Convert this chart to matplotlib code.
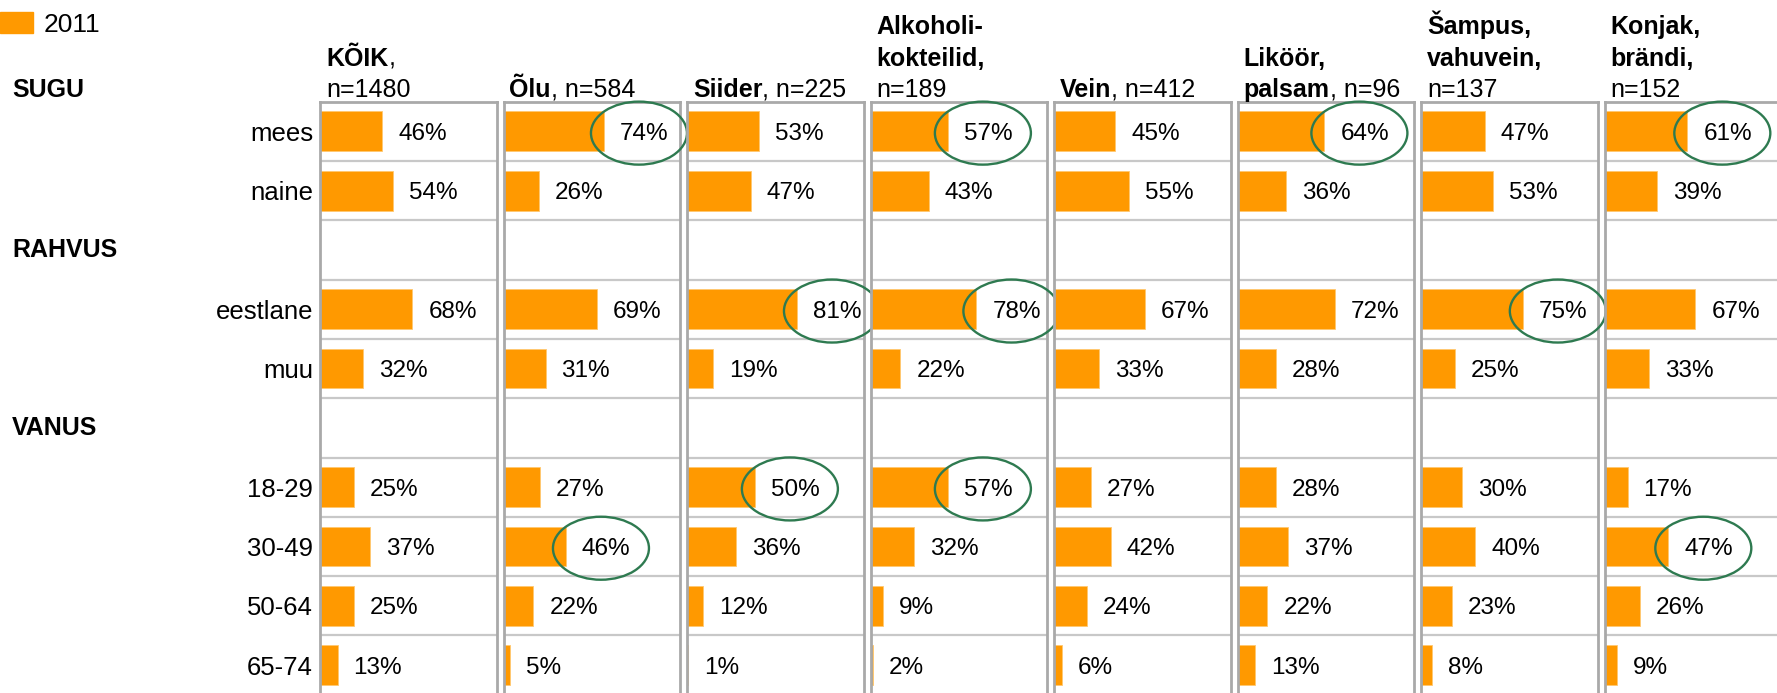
import matplotlib.pyplot as plt
import matplotlib.transforms as mtransforms
from matplotlib.patches import Ellipse, Patch
import numpy as np

plt.rcParams['font.family'] = ['Liberation Sans', 'DejaVu Sans']

# rows (empty strings are the spacer rows under the group titles)
rows = ['mees', 'naine', '', 'eestlane', 'muu', '', '18-29', '30-49', '50-64', '65-74']
groups = ['SUGU', 'RAHVUS', 'VANUS']

# header text per panel: lines of (text, bold) pieces
headers = [
    [[('KÕIK', True), (',', False)], [('n=1480', False)]],
    [[('Õlu', True), (', n=584', False)]],
    [[('Siider', True), (', n=225', False)]],
    [[('Alkoholi-', True)], [('kokteilid,', True)], [('n=189', False)]],
    [[('Vein', True), (', n=412', False)]],
    [[('Liköör,', True)], [('palsam', True), (', n=96', False)]],
    [[('Šampus,', True)], [('vahuvein,', True)], [('n=137', False)]],
    [[('Konjak,', True)], [('brändi,', True)], [('n=152', False)]],
]

koik     = [46, 54, None, 68, 32, None, 25, 37, 25, 13]
olu      = [74, 26, None, 69, 31, None, 27, 46, 22, 5]
siider   = [53, 47, None, 81, 19, None, 50, 36, 12, 1]
alkohol  = [57, 43, None, 78, 22, None, 57, 32, 9, 2]
vein     = [45, 55, None, 67, 33, None, 27, 42, 24, 6]
likoor   = [64, 36, None, 72, 28, None, 28, 37, 22, 13]
sampus   = [47, 53, None, 75, 25, None, 30, 40, 23, 8]
konjak   = [61, 39, None, 67, 33, None, 17, 47, 26, 9]
panels = [koik, olu, siider, alkohol, vein, likoor, sampus, konjak]

# circled values: (panel index, row label)
highlights = [(1, 'mees'), (3, 'mees'), (5, 'mees'), (7, 'mees'),
              (2, 'eestlane'), (3, 'eestlane'), (6, 'eestlane'),
              (2, '18-29'), (3, '18-29'), (1, '30-49'), (7, '30-49')]

orange = '#FF9900'
green = '#2E7A50'
W, H = 1777, 693
fig = plt.figure(figsize=(W / 100, H / 100), dpi=100)

x0, pitch, pw = 320, 183.5, 176.5
top, rowh = 101.7, 59.3
xmax = 130
pxu = pw / xmax  # pixels per percent

for i, vals in enumerate(panels):
    left = x0 + i * pitch
    ax = fig.add_axes([left / W, (H - top - rowh * len(rows)) / H,
                       pw / W, rowh * len(rows) / H])
    ax.set_xlim(0, xmax)
    ax.set_ylim(len(rows), 0)
    for s in ax.spines.values():
        s.set_color('#A9A9A9')
        s.set_linewidth(2)
    for b in range(1, len(rows)):
        ax.axhline(b, color='#C8C8C8', lw=1.6, zorder=0)
    for r, v in enumerate(vals):
        if v is None:
            continue
        ax.barh(r + 0.5, v, height=0.67, color=orange, edgecolor='#FFC870',
                lw=0.6, zorder=2)
        ax.annotate(f'{v}%', xy=(v, r + 0.5), xytext=(11.5, 0),
                    textcoords='offset points', va='center_baseline', ha='left',
                    fontsize=17.5, zorder=3)
        if (i, rows[r]) in highlights:
            ax.add_patch(Ellipse((v + 35 / pxu, r + 0.53), 96 / pxu, 63 / rowh,
                                 fill=False, ec=green, lw=1.7, zorder=4,
                                 clip_on=False))
    ax.set_xticks([])
    if i == 0:
        ax.set_yticks(np.arange(len(rows)) + 0.5)
        ax.set_yticklabels(rows, fontsize=18.5, va='center_baseline')
        ax.tick_params(axis='y', length=0, pad=5)
        trans = mtransforms.blended_transform_factory(fig.transFigure, ax.transData)
        for g, gy in zip(groups, [-0.2, 2.5, 5.5]):
            ax.text(12 / W, gy, g, transform=trans, fontsize=18,
                    fontweight='bold', va='center', ha='left')
    else:
        ax.set_yticks([])

    # header lines, bold and normal pieces joined on one baseline
    lines = headers[i]
    for k, line in enumerate(lines):
        base = 97 - 31.5 * (len(lines) - 1 - k)
        last = None
        for txt, bold in line:
            w = 'bold' if bold else 'normal'
            if last is None:
                last = fig.text((left + 6) / W, 1 - base / H, txt, fontsize=18,
                                fontweight=w, ha='left', va='baseline')
            else:
                last = ax.annotate(txt, xy=(1, 0), xycoords=last,
                                   fontsize=18, fontweight=w,
                                   ha='left', va='bottom',
                                   annotation_clip=False)

fig.legend(handles=[Patch(color=orange, label='2011')], loc='upper left',
           bbox_to_anchor=(0, 1 - 12 / H), frameon=False, fontsize=19,
           handlelength=1.25, handleheight=0.85, handletextpad=0.4,
           borderpad=0, borderaxespad=0)

fig.savefig('out.png', dpi=100)
